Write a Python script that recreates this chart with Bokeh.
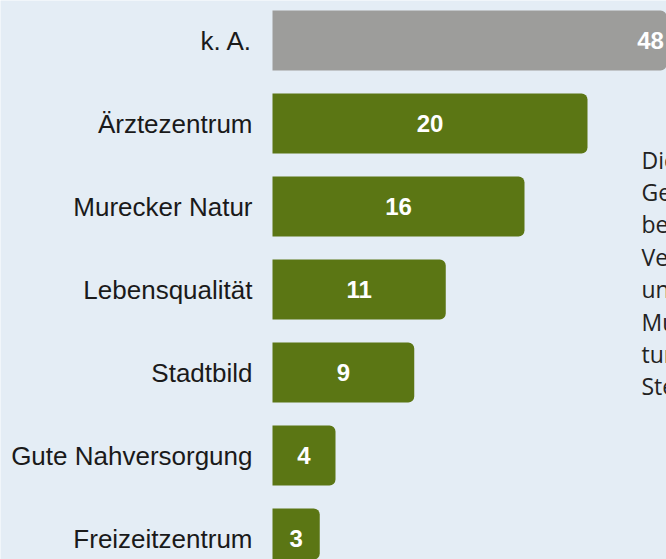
from bokeh.plotting import figure
from bokeh.models import ColumnDataSource, Range1d
from bokeh.core.properties import value
from bokeh.embed import file_html
from bokeh.resources import INLINE

categories = ["k. A.", "Ärztezentrum", "Murecker Natur", "Lebensqualität",
              "Stadtbild", "Gute Nahversorgung", "Freizeitzentrum"]
values = [48, 20, 16, 11, 9, 4, 3]
colors = ["#9d9d9b", "#5b7614", "#5b7614", "#5b7614", "#5b7614", "#5b7614", "#5b7614"]
side_text = ["Die", "Ge", "be", "Ve", "un", "Mu", "tur", "Ste"]

W, H = 666, 559
px_per_unit = 15.75
x0_px = 272
pitch = 83
first_center = 40

idx = list(range(len(categories)))
src = ColumnDataSource(dict(
    y=idx, v=values, c=colors, cat=categories,
    mid=[v / 2 for v in values], lab=[str(v) for v in values],
))

p = figure(width=W, height=H, output_backend="svg", toolbar_location=None,
           x_range=Range1d(-x0_px / px_per_unit, (W - x0_px) / px_per_unit),
           y_range=Range1d((H - first_center) / pitch, -first_center / pitch),
           min_border=0, min_border_left=0, min_border_right=0,
           min_border_top=0, min_border_bottom=0)
p.axis.visible = False
p.grid.visible = False
p.outline_line_color = None
p.background_fill_color = "#e4edf5"
p.border_fill_color = "#e4edf5"

p.hbar(y="y", left=0, right="v", height=60 / pitch, fill_color="c", line_color=None,
       border_radius=(0, 6, 6, 0), source=src)

p.text(x=0, y="y", text="cat", x_offset=-20, text_align="right", text_baseline="middle",
       text_font=value("Liberation Sans"), text_font_size="26px", text_color="#1a1a1a",
       source=src)

p.text(x="mid", y="y", text="lab", text_align="center", text_baseline="middle",
       text_font=value("Liberation Sans"), text_font_style="bold", text_font_size="24px",
       text_color="#ffffff", source=src)

# side note (cut off at the right edge, as in the reference)
ty = [(159 + 32.4 * i - first_center) / pitch for i in range(len(side_text))]
tx = [(641 - x0_px) / px_per_unit] * len(side_text)
p.text(x=tx, y=ty, text=side_text, text_align="left", text_baseline="middle",
       text_font=value("Open Sans"), text_font_size="23px", text_color="#222222")

open("out.html", "w").write(file_html(p, INLINE))
